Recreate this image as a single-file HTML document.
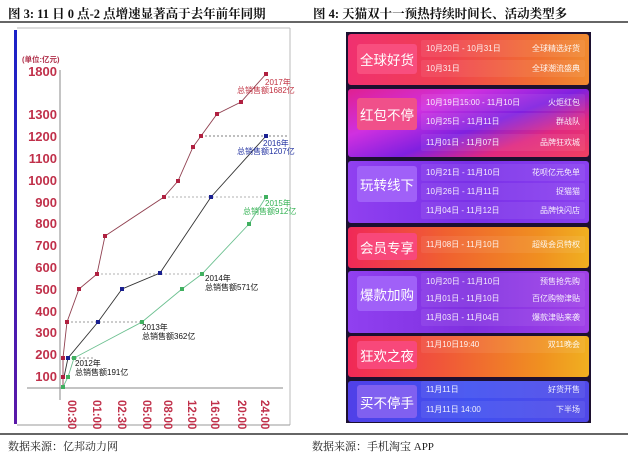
<!DOCTYPE html>
<html><head><meta charset="utf-8">
<style>
*{margin:0;padding:0;box-sizing:border-box}
body{width:630px;height:461px;background:#fff;position:relative;overflow:hidden;font-family:"Liberation Serif","Noto Serif CJK SC",serif}
.t{position:absolute;font-size:12.5px;font-weight:bold;color:#111;top:4px;white-space:nowrap}
.f{position:absolute;font-size:11px;color:#222;top:438px;white-space:nowrap}
.hl{position:absolute;left:0;width:628px;height:2px;background:#666}
.panel{position:absolute;left:346px;top:32px;width:245px;height:391px;background:#1c1030}
.sec{position:absolute;left:348px;width:241px;border-radius:3px}
.lab{position:absolute;left:357px;width:60px;border-radius:3px;color:#fff;font-family:"Liberation Sans","Noto Sans CJK SC",sans-serif;font-size:13.5px;display:flex;align-items:center;justify-content:center;white-space:nowrap}
.row{position:absolute;left:421px;width:164px;height:17px;border-radius:2px;background:rgba(255,255,255,0.08);color:#fff;font-family:"Liberation Sans","Noto Sans CJK SC",sans-serif;font-size:8px;line-height:17px;padding:0 5px;display:flex;justify-content:space-between;opacity:.92}
</style></head><body>
<div class="t" style="left:8px">图 3:&nbsp;11 日 0 点-2 点增速显著高于去年前年同期</div>
<div class="t" style="left:313px">图 4:&nbsp;天猫双十一预热持续时间长、活动类型多</div>
<div class="hl" style="top:21px"></div>
<div class="hl" style="top:433px"></div>
<div class="f" style="left:8px">数据来源：亿邦动力网</div>
<div class="f" style="left:312px">数据来源：手机淘宝 APP</div>

<svg style="position:absolute;left:0;top:0" width="300" height="433" font-family="Liberation Sans, Noto Sans CJK SC, sans-serif">
<defs><linearGradient id="bb" x1="0" y1="0" x2="0" y2="1"><stop offset="0" stop-color="#1a22c8"/><stop offset="1" stop-color="#5a18a8"/></linearGradient></defs>
<rect x="14" y="30" width="3" height="394" fill="url(#bb)"/>
<line x1="17" y1="28" x2="290" y2="28" stroke="#bbb" stroke-width="1"/>
<line x1="290" y1="28" x2="290" y2="425" stroke="#bbb" stroke-width="1"/>
<line x1="17" y1="425" x2="290" y2="425" stroke="#999" stroke-width="1"/>
<line x1="60" y1="70" x2="60" y2="400" stroke="#888" stroke-width="1"/>
<line x1="27" y1="388" x2="283" y2="388" stroke="#888" stroke-width="1"/>
<text x="22" y="62" font-size="7.5" fill="#b0304a" font-weight="bold">(单位:亿元)</text>
<g font-size="13" font-weight="bold" fill="#c0304a" text-anchor="end">
<text x="57" y="76">1800</text><text x="57" y="119">1300</text><text x="57" y="141">1200</text>
<text x="57" y="163">1100</text><text x="57" y="185">1000</text><text x="57" y="207">900</text>
<text x="57" y="228">800</text><text x="57" y="250">700</text><text x="57" y="272">600</text>
<text x="57" y="294">500</text><text x="57" y="316">400</text><text x="57" y="337">300</text>
<text x="57" y="359">200</text><text x="57" y="381">100</text>
</g>
<g font-size="11.5" font-weight="bold" fill="#c0304a">
<text transform="translate(68,400) rotate(90)">00:30</text>
<text transform="translate(93,400) rotate(90)">01:00</text>
<text transform="translate(118,400) rotate(90)">02:30</text>
<text transform="translate(143,400) rotate(90)">05:00</text>
<text transform="translate(164,400) rotate(90)">08:00</text>
<text transform="translate(188,400) rotate(90)">12:00</text>
<text transform="translate(211,400) rotate(90)">16:00</text>
<text transform="translate(238,400) rotate(90)">20:00</text>
<text transform="translate(261,400) rotate(90)">24:00</text>
</g>
<g stroke-dasharray="2,2" stroke-width="0.8">
<line x1="201" y1="136" x2="288" y2="136" stroke="#555"/>
<line x1="164" y1="197" x2="266" y2="197" stroke="#999"/>
<line x1="97" y1="274" x2="202" y2="274" stroke="#999"/>
<line x1="67" y1="322" x2="142" y2="322" stroke="#777"/>
<line x1="63" y1="358" x2="95" y2="358" stroke="#777"/>
</g>
<polyline fill="none" stroke="#904050" stroke-width="0.9" points="63,387 63,377 63,358 67,322 79,289 97,274 105,236 164,197 178,181 193,147 201,136 217,114 241,102 266,74"/>
<polyline fill="none" stroke="#333" stroke-width="0.9" points="64,377 68,358 98,322 122,289 160,273 211,197 266,136"/>
<polyline fill="none" stroke="#6cc090" stroke-width="0.9" points="63,387 68,377 74,358 142,322 182,289 202,274 249,224 266,197"/>
<g fill="#b02040"><rect x="61" y="356" width="4" height="4"/><rect x="65" y="320" width="4" height="4"/><rect x="77" y="287" width="4" height="4"/><rect x="95" y="272" width="4" height="4"/><rect x="103" y="234" width="4" height="4"/><rect x="162" y="195" width="4" height="4"/><rect x="176" y="179" width="4" height="4"/><rect x="191" y="145" width="4" height="4"/><rect x="199" y="134" width="4" height="4"/><rect x="215" y="112" width="4" height="4"/><rect x="239" y="100" width="4" height="4"/><rect x="264" y="72" width="4" height="4"/><rect x="61" y="375" width="4" height="4"/></g>
<g fill="#1a2090"><rect x="66" y="356" width="4" height="4"/><rect x="96" y="320" width="4" height="4"/><rect x="120" y="287" width="4" height="4"/><rect x="158" y="271" width="4" height="4"/><rect x="209" y="195" width="4" height="4"/><rect x="264" y="134" width="4" height="4"/></g>
<g fill="#40b060"><rect x="61" y="385" width="4" height="4"/><rect x="66" y="375" width="4" height="4"/><rect x="72" y="356" width="4" height="4"/><rect x="140" y="320" width="4" height="4"/><rect x="180" y="287" width="4" height="4"/><rect x="200" y="272" width="4" height="4"/><rect x="247" y="222" width="4" height="4"/><rect x="264" y="195" width="4" height="4"/></g>
<g font-size="8">
<text x="265" y="85" fill="#c03040">2017年</text><text x="237" y="93" fill="#c03040">总销售额1682亿</text>
<text x="263" y="146" fill="#2030a0">2016年</text><text x="237" y="154" fill="#2030a0">总销售额1207亿</text>
<text x="265" y="206" fill="#30b050">2015年</text><text x="243" y="214" fill="#30b050">总销售额912亿</text>
<text x="205" y="281" fill="#111">2014年</text><text x="205" y="290" fill="#111">总销售额571亿</text>
<text x="142" y="330" fill="#111">2013年</text><text x="142" y="339" fill="#111">总销售额362亿</text>
<text x="75" y="366" fill="#111">2012年</text><text x="75" y="375" fill="#111">总销售额191亿</text>
</g>
</svg>

<div class="panel"></div>
<div class="sec" style="top:34px;height:51px;background:linear-gradient(90deg,#f03070,#f04050 40%,#f07030 80%,#f08a30)"></div>
<div class="sec" style="top:89px;height:68px;background:linear-gradient(160deg,#e02090,#d030e0 30%,#8020e0 55%,#e02880 75%,#f04060)"></div>
<div class="sec" style="top:161px;height:62px;background:linear-gradient(90deg,#9040f0,#7a30e8 50%,#8a40f0)"></div>
<div class="sec" style="top:227px;height:41px;background:linear-gradient(90deg,#f02858,#f06030 40%,#f09020 80%,#f0b020)"></div>
<div class="sec" style="top:271px;height:62px;background:linear-gradient(90deg,#9040f0,#8030e0 50%,#a040e8)"></div>
<div class="sec" style="top:336px;height:41px;background:linear-gradient(90deg,#f02858,#f05838 40%,#f09020 80%,#f0b020)"></div>
<div class="sec" style="top:381px;height:41px;background:linear-gradient(90deg,#5040e8,#4050f0 50%,#5048e8)"></div>

<div class="lab" style="top:44px;height:30px;background:#f84e7e">全球好货</div>
<div class="lab" style="top:98px;height:32px;background:#f0508a">红包不停</div>
<div class="lab" style="top:166px;height:36px;background:#a060f8">玩转线下</div>
<div class="lab" style="top:233px;height:27px;background:#f8487a">会员专享</div>
<div class="lab" style="top:276px;height:35px;background:#a060f8">爆款加购</div>
<div class="lab" style="top:341px;height:28px;background:#f8487a">狂欢之夜</div>
<div class="lab" style="top:385px;height:33px;background:#8060f0">买不停手</div>

<div class="row" style="top:40px"><span>10月20日 - 10月31日</span><span>全球精选好货</span></div>
<div class="row" style="top:60px"><span>10月31日</span><span>全球潮流盛典</span></div>
<div class="row" style="top:94px"><span>10月19日15:00 - 11月10日</span><span>火炬红包</span></div>
<div class="row" style="top:113px"><span>10月25日 - 11月11日</span><span>群战队</span></div>
<div class="row" style="top:134px"><span>11月01日 - 11月07日</span><span>品牌狂欢城</span></div>
<div class="row" style="top:164px"><span>10月21日 - 11月10日</span><span>花呗亿元免单</span></div>
<div class="row" style="top:183px"><span>10月26日 - 11月11日</span><span>捉猫猫</span></div>
<div class="row" style="top:202px"><span>11月04日 - 11月12日</span><span>品牌快闪店</span></div>
<div class="row" style="top:236px"><span>11月08日 - 11月10日</span><span>超级会员特权</span></div>
<div class="row" style="top:273px"><span>10月20日 - 11月10日</span><span>预售抢先购</span></div>
<div class="row" style="top:290px"><span>11月01日 - 11月10日</span><span>百亿购物津贴</span></div>
<div class="row" style="top:309px"><span>11月03日 - 11月04日</span><span>爆款津贴来袭</span></div>
<div class="row" style="top:336px"><span>11月10日19:40</span><span>双11晚会</span></div>
<div class="row" style="top:381px"><span>11月11日</span><span>好货开售</span></div>
<div class="row" style="top:401px"><span>11月11日 14:00</span><span>下半场</span></div>
</body></html>
